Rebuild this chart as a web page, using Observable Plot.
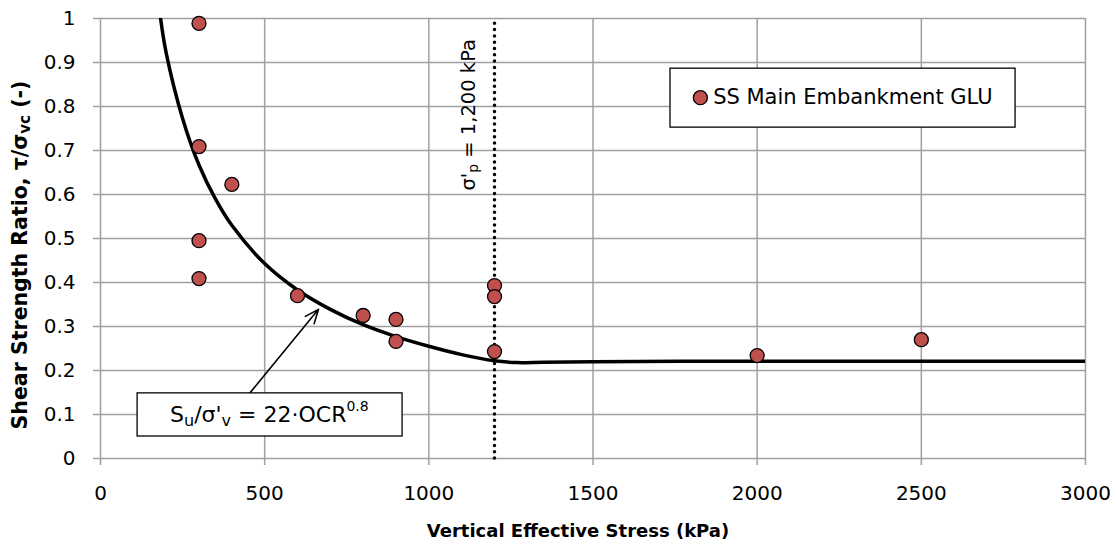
<!DOCTYPE html>
<html><head><meta charset="utf-8">
<script src="https://cdn.jsdelivr.net/npm/d3@7"></script>
<script src="https://cdn.jsdelivr.net/npm/@observablehq/plot@0.6"></script>
<style>
body{margin:0;background:#fff;}
svg{font-family:"DejaVu Sans",sans-serif;}
</style>
</head><body><div id="chart"></div>
<script>
// Measured data points (vertical effective stress kPa, shear strength ratio)
const pointX = [300, 300, 400, 300, 300, 600, 800, 900, 900, 1200, 1200, 1200, 2000, 2500];
const pointY = [0.989, 0.709, 0.623, 0.495, 0.409, 0.370, 0.325, 0.316, 0.266, 0.393, 0.368, 0.243, 0.234, 0.270];
// Fitted curve
const curveX = [183, 200, 250, 300, 350, 400, 500, 600, 700, 800, 900, 1000, 1100, 1200, 1270, 1350, 1500, 1800, 2200, 2600, 3000];
const curveY = [1.0, 0.922, 0.773, 0.667, 0.590, 0.530, 0.443, 0.383, 0.339, 0.304, 0.277, 0.255, 0.236, 0.222, 0.218, 0.219, 0.220, 0.221, 0.221, 0.221, 0.221];
const xTicks = [0, 500, 1000, 1500, 2000, 2500, 3000];
const yTicks = [0, 0.1, 0.2, 0.3, 0.4, 0.5, 0.6, 0.7, 0.8, 0.9, 1];
const preconsolidation = 1200;
const legendLabel = "SS Main Embankment GLU";
const seriesColor = "#C0504D";

const points = pointX.map((x, i) => ({x, y: pointY[i]}));
const curve = curveX.map((x, i) => ({x, y: curveY[i]}));

const grid = "#A0A0A0";
const fs = 20;
const yFmt = d => (d === 0 || d === 1) ? String(d) : d.toFixed(1);

const plot = Plot.plot({
  width: 1116, height: 549,
  marginLeft: 100, marginRight: 31, marginTop: 18, marginBottom: 91,
  x: {domain: [0, 3000]},
  y: {domain: [0, 1]},
  marks: [
    Plot.gridX(xTicks, {stroke: grid, strokeOpacity: 1, strokeWidth: 1.5}),
    Plot.gridY(yTicks, {stroke: grid, strokeOpacity: 1, strokeWidth: 1.5}),
    Plot.axisX({ticks: xTicks, tickSize: 7, tickPadding: 20, stroke: grid, strokeWidth: 1.5, fill: "#000", fontSize: fs, label: null, tickFormat: d => String(d)}),
    Plot.axisY({ticks: yTicks, tickSize: 7, stroke: grid, strokeWidth: 1.5, label: null, tickFormat: () => ""}),
    Plot.text(yTicks, {y: d => d, frameAnchor: "left", dx: -25, textAnchor: "end", text: yFmt, fontSize: fs, fill: "#000"}),
    Plot.ruleX([preconsolidation], {y1: 0, y2: 1, stroke: "#000", strokeWidth: 3.5, strokeDasharray: "0,6.3", strokeLinecap: "round"}),
    Plot.line(curve, {x: "x", y: "y", curve: "catmull-rom", stroke: "#000", strokeWidth: 3.5, clip: true}),
    Plot.dot(points, {x: "x", y: "y", r: 7, fill: seriesColor, stroke: "#000", strokeWidth: 1.3}),
    // legend box
    Plot.rect([{x1: 1736, x2: 2787, y1: 0.752, y2: 0.886}], {x1: "x1", x2: "x2", y1: "y1", y2: "y2", fill: "#fff", stroke: "#000", strokeWidth: 1.3}),
    Plot.dot([{x: 1827, y: 0.82}], {x: "x", y: "y", r: 7, fill: seriesColor, stroke: "#000", strokeWidth: 1.3}),
    Plot.text([legendLabel], {x: 1866, y: 0.82, text: d => d, textAnchor: "start", fontSize: 21, fill: "#000"}),
    // annotation
    Plot.arrow([{x1: 454, y1: 0.148, x2: 664, y2: 0.339}], {x1: "x1", y1: "y1", x2: "x2", y2: "y2", stroke: "#000", strokeWidth: 1.6, headLength: 14, headAngle: 45}),
    Plot.rect([{x1: 113, x2: 920, y1: 0.05, y2: 0.148}], {x1: "x1", x2: "x2", y1: "y1", y2: "y2", fill: "#fff", stroke: "#000", strokeWidth: 1.3})
  ]
});
document.getElementById("chart").appendChild(plot);

const svg = d3.select(plot);
const sx = plot.scale("x"), sy = plot.scale("y");

// annotation text
const ann = svg.append("text")
  .attr("x", sx.apply(516)).attr("y", sy.apply(0.099))
  .attr("text-anchor", "middle").attr("dominant-baseline", "central")
  .attr("font-size", 22).attr("fill", "#000");
ann.append("tspan").text("S");
ann.append("tspan").attr("dy", 6).attr("font-size", 16).text("u");
ann.append("tspan").attr("dy", -6).text("/σ'");
ann.append("tspan").attr("dy", 6).attr("font-size", 16).text("v");
ann.append("tspan").attr("dy", -6).text(" = 22·OCR");
ann.append("tspan").attr("dy", -8).attr("font-size", 14).text("0.8");

// preconsolidation label (rotated)
const px = sx.apply(1120), py = sy.apply(0.78);
const pl = svg.append("text")
  .attr("transform", `translate(${px},${py}) rotate(-90)`)
  .attr("text-anchor", "middle").attr("dominant-baseline", "central")
  .attr("font-size", 19.5).attr("fill", "#000");
pl.append("tspan").text("σ'");
pl.append("tspan").attr("dy", 5).attr("font-size", 14).text("p");
pl.append("tspan").attr("dy", -5).text(" = 1,200 kPa");

// axis titles
svg.append("text")
  .attr("x", 578).attr("y", 530)
  .attr("text-anchor", "middle").attr("dominant-baseline", "central")
  .attr("font-size", 18).attr("font-weight", "bold").attr("fill", "#000")
  .text("Vertical Effective Stress (kPa)");

const yt = svg.append("text")
  .attr("transform", `translate(20,255) rotate(-90)`)
  .attr("text-anchor", "middle").attr("dominant-baseline", "central")
  .attr("font-size", 20.5).attr("font-weight", "bold").attr("fill", "#000");
yt.append("tspan").text("Shear Strength Ratio, τ/σ");
yt.append("tspan").attr("dy", 5).attr("font-size", 15).text("vc");
yt.append("tspan").attr("dy", -5).text(" (-)");
</script>
</body></html>
